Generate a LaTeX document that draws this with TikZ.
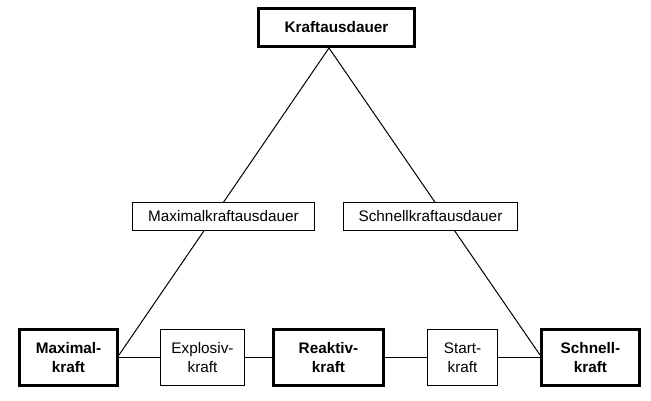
\documentclass[tikz,border=0pt]{standalone}
\usepackage{fontspec}
\setmainfont{Liberation Sans}
\usetikzlibrary{backgrounds}
\begin{document}
\begin{tikzpicture}[x=1pt,y=-1pt,
  every node/.style={font=\fontsize{15.3}{19}\selectfont, align=center, inner sep=0pt, fill=white},
  mainbox/.style={draw, line width=3pt, font=\fontsize{15.3}{19}\selectfont\bfseries},
  subbox/.style={draw, line width=0.9pt},
  link/.style={draw, line width=1pt}]
\useasboundingbox (0,0) rectangle (651,401);
\node[mainbox, minimum width=156pt, minimum height=38pt] (top) at (336.5,27.5) {Kraftausdauer};
\node[subbox, minimum width=182pt, minimum height=28pt] (mka) at (223.5,216.5) {Maximalkraftausdauer};
\node[subbox, minimum width=174pt, minimum height=28pt] (ska) at (430.5,216.5) {Schnellkraftausdauer};
\node[mainbox, minimum width=98pt, minimum height=56pt] (max) at (68.5,357.5) {Maximal-\\kraft};
\node[subbox, minimum width=84pt, minimum height=56pt] (exp) at (202.5,357.5) {Explosiv-\\kraft};
\node[mainbox, minimum width=110pt, minimum height=56pt] (rea) at (328.5,357.5) {Reaktiv-\\kraft};
\node[subbox, minimum width=70pt, minimum height=56pt] (sta) at (462.5,357.5) {Start-\\kraft};
\node[mainbox, minimum width=98pt, minimum height=56pt] (sch) at (590.5,357.5) {Schnell-\\kraft};
\coordinate (apex) at (329,48);
\coordinate (maxend) at (119,355);
\coordinate (schend) at (540,355);
\begin{pgfonlayer}{background}
\fill[white] (0,0) rectangle (651,401);
\draw[link] (apex) -- (maxend);
\draw[link] (apex) -- (schend);
\end{pgfonlayer}
\draw[link] (max.east) -- (exp.west);
\draw[link] (exp.east) -- (rea.west);
\draw[link] (rea.east) -- (sta.west);
\draw[link] (sta.east) -- (sch.west);
\end{tikzpicture}
\end{document}
